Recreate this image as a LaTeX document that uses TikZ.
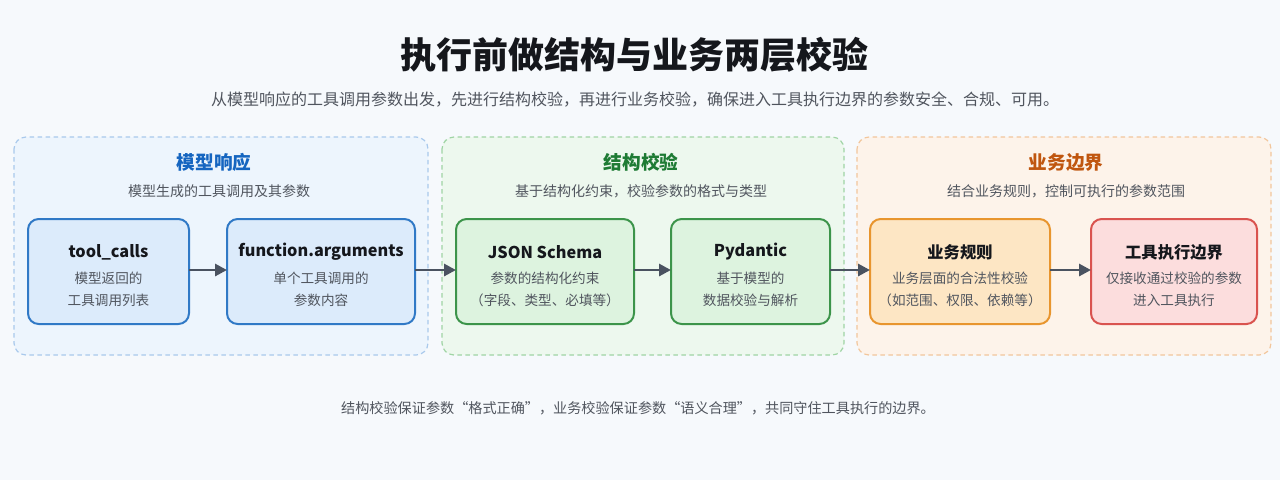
\documentclass[tikz,border=0pt]{standalone}
\usepackage{fontspec}
\setmainfont{Noto Sans CJK SC}
\usetikzlibrary{arrows.meta}
\definecolor{bg}{HTML}{F6F9FC}
\definecolor{titlec}{HTML}{15171C}
\definecolor{subc}{HTML}{50555E}
\definecolor{g1fill}{HTML}{EDF5FD}
\definecolor{g1line}{HTML}{A9C9EC}
\definecolor{g2fill}{HTML}{EDF8EE}
\definecolor{g2line}{HTML}{9FD4A4}
\definecolor{g3fill}{HTML}{FDF3EA}
\definecolor{g3line}{HTML}{F2C69C}
\definecolor{t1}{HTML}{1565C0}
\definecolor{t2}{HTML}{1E7B34}
\definecolor{t3}{HTML}{C0560F}
\definecolor{b1fill}{HTML}{DCEBFB}
\definecolor{b1line}{HTML}{3079C6}
\definecolor{b2fill}{HTML}{DDF3DF}
\definecolor{b2line}{HTML}{3C944A}
\definecolor{b3fill}{HTML}{FDE6C4}
\definecolor{b3line}{HTML}{E8952E}
\definecolor{b4fill}{HTML}{FCDDDD}
\definecolor{b4line}{HTML}{D9534F}
\definecolor{arr}{HTML}{4A5260}
\begin{document}
\begin{tikzpicture}[x=0.75pt,y=-0.75pt,
  grp/.style={draw, line width=0.9pt, rounded corners=9pt, dash pattern=on 3.5pt off 2.5pt},
  gtitle/.style={font=\fontsize{14}{16}\selectfont\bfseries},
  gsub/.style={text=subc, font=\fontsize{10.5}{13}\selectfont},
  card/.style={draw, line width=1.5pt, rounded corners=8pt},
  ctitle/.style={font=\fontsize{12.2}{15}\selectfont\bfseries, text=titlec},
  cdesc/.style={text=subc, font=\fontsize{10.2}{16.5}\selectfont, align=center},
  flow/.style={draw=arr, line width=2.2pt, -{Triangle[length=9pt,width=9pt]}}
]
\useasboundingbox (0,0) rectangle (1280,480);
\fill[bg] (0,0) rectangle (1280,480);

\node[text=titlec, font=\fontsize{27}{30}\selectfont\bfseries] (title) at (634,55) {执行前做结构与业务两层校验};
\node[text=subc, font=\fontsize{12}{14}\selectfont] (subtitle) at (635,100) {从模型响应的工具调用参数出发，先进行结构校验，再进行业务校验，确保进入工具执行边界的参数安全、合规、可用。};

% groups
\draw[grp, draw=g1line, fill=g1fill] (14,137) rectangle (428,355);
\draw[grp, draw=g2line, fill=g2fill] (442,137) rectangle (844,355);
\draw[grp, draw=g3line, fill=g3fill] (857,137) rectangle (1271,355);

\node[gtitle, text=t1] (g1t) at (214,162) {模型响应};
\node[gsub] (g1s) at (219,191) {模型生成的工具调用及其参数};
\node[gtitle, text=t2] (g2t) at (641,162) {结构校验};
\node[gsub] (g2s) at (641,191) {基于结构化约束，校验参数的格式与类型};
\node[gtitle, text=t3] (g3t) at (1066,162) {业务边界};
\node[gsub] (g3s) at (1066,191) {结合业务规则，控制可执行的参数范围};

% cards
\draw[card, draw=b1line, fill=b1fill] (28,219) rectangle (189,324);
\coordinate (c1w) at (28,270); \coordinate (c1e) at (189,270);
\draw[card, draw=b1line, fill=b1fill] (227,219) rectangle (415,324);
\coordinate (c2w) at (227,270); \coordinate (c2e) at (415,270);
\draw[card, draw=b2line, fill=b2fill] (456,219) rectangle (634,324);
\coordinate (c3w) at (456,270); \coordinate (c3e) at (634,270);
\draw[card, draw=b2line, fill=b2fill] (671,219) rectangle (830,324);
\coordinate (c4w) at (671,270); \coordinate (c4e) at (830,270);
\draw[card, draw=b3line, fill=b3fill] (870,219) rectangle (1050,324);
\coordinate (c5w) at (870,270); \coordinate (c5e) at (1050,270);
\draw[card, draw=b4line, fill=b4fill] (1091,219) rectangle (1257,324);
\coordinate (c6w) at (1091,270);

\node[ctitle] (n1) at (108.5,252) {tool\_calls};
\node[cdesc] (d1) at (108.5,289) {模型返回的\\工具调用列表};
\node[ctitle] (n2) at (321,252) {function.arguments};
\node[cdesc] (d2) at (321,289) {单个工具调用的\\参数内容};
\node[ctitle] (n3) at (545,252) {JSON Schema};
\node[cdesc] (d3) at (545,289) {参数的结构化约束\\（字段、类型、必填等）};
\node[ctitle] (n4) at (750.5,252) {Pydantic};
\node[cdesc] (d4) at (750.5,289) {基于模型的\\数据校验与解析};
\node[ctitle] (n5) at (960,252) {业务规则};
\node[cdesc] (d5) at (960,289) {业务层面的合法性校验\\（如范围、权限、依赖等）};
\node[ctitle] (n6) at (1174,252) {工具执行边界};
\node[cdesc] (d6) at (1174,289) {仅接收通过校验的参数\\进入工具执行};

\draw[flow] (c1e) -- (c2w);
\draw[flow] (c2e) -- (c3w);
\draw[flow] (c3e) -- (c4w);
\draw[flow] (c4e) -- (c5w);
\draw[flow] (c5e) -- (c6w);

\node[text=subc, font=\fontsize{10.6}{13}\selectfont] (footer) at (638,408) {结构校验保证参数“格式正确”，业务校验保证参数“语义合理”，共同守住工具执行的边界。};
\end{tikzpicture}
\end{document}
